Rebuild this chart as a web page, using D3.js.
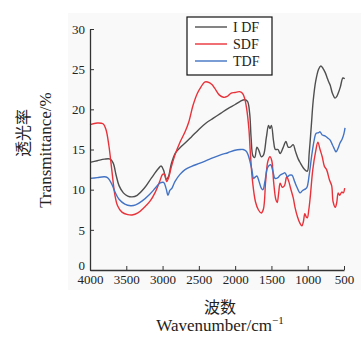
<!DOCTYPE html>
<html>
<head>
<meta charset="utf-8">
<script src="https://cdn.jsdelivr.net/npm/d3@7"></script>
<style>
  body { margin: 0; background: #fff; }
  svg { display: block; }
</style>
</head>
<body>
<div id="chart"></div>
<script>
const seriesNames = ['I DF', 'SDF', 'TDF'];
const seriesColors = ['#4f4f4f', '#e8323a', '#4373c4'];
const xTicks = [4000, 3500, 3000, 2500, 2000, 1500, 1000, 500];
const yTicks = [0, 5, 10, 15, 20, 25, 30];

// [wavenumber, transmittance]
const idf = [[4000,13.4],[3900,13.6],[3800,13.8],[3720,13.8],[3680,13.3],[3640,11.8],[3600,10.5],[3540,9.6],[3480,9.2],[3420,9.1],[3350,9.3],[3250,10.2],[3150,11.5],[3060,12.6],[3020,12.95],[2985,12.4],[2950,11.3],[2920,11.6],[2880,13.2],[2820,14.6],[2750,15.3],[2690,15.8],[2600,16.6],[2500,17.5],[2400,18.3],[2300,18.9],[2200,19.5],[2100,20.1],[2000,20.6],[1930,21.0],[1870,21.2],[1830,21.0],[1800,19.5],[1780,16.5],[1755,14.2],[1730,14.0],[1700,15.3],[1670,14.8],[1640,14.1],[1610,14.3],[1570,16.5],[1540,18.0],[1520,17.6],[1500,18.0],[1470,16.0],[1445,15.0],[1410,15.0],[1380,14.5],[1340,15.2],[1300,16.0],[1270,15.3],[1240,15.3],[1200,15.6],[1170,14.8],[1130,13.8],[1100,13.3],[1060,12.7],[1030,12.4],[1005,12.3],[980,14.5],[950,18.0],[925,21.0],[890,23.5],[850,25.0],[820,25.4],[790,25.1],[760,24.6],[735,24.0],[710,23.4],[690,23.0],[660,22.0],[625,21.4],[600,21.6],[580,22.0],[550,22.8],[515,23.9],[490,23.8]];

const sdf = [[4000,18.1],[3900,18.3],[3820,18.2],[3780,17.5],[3740,15.5],[3700,12.5],[3660,9.5],[3620,8.0],[3560,7.2],[3480,6.9],[3420,6.85],[3340,7.1],[3250,7.8],[3170,8.6],[3100,9.7],[3040,11.0],[3000,11.9],[2970,11.9],[2945,11.0],[2920,11.4],[2880,12.8],[2830,14.3],[2760,15.9],[2690,17.2],[2640,18.4],[2580,20.5],[2520,22.0],[2470,22.8],[2420,23.4],[2380,23.4],[2320,23.1],[2280,22.6],[2220,21.8],[2160,21.5],[2110,21.6],[2060,22.0],[2000,22.1],[1940,22.2],[1900,22.0],[1870,21.4],[1840,20.0],[1810,17.5],[1790,14.5],[1760,11.0],[1720,8.5],[1680,7.5],[1640,7.1],[1610,7.6],[1580,11.0],[1550,13.5],[1520,14.1],[1495,13.6],[1470,11.0],[1440,8.8],[1420,8.4],[1400,9.6],[1380,10.8],[1350,10.3],[1320,10.5],[1290,11.6],[1260,11.0],[1240,10.3],[1200,9.0],[1175,7.8],[1140,6.6],[1106,5.8],[1080,5.5],[1060,6.0],[1040,7.0],[1020,6.6],[1005,6.5],[985,7.5],[965,9.1],[930,12.5],[890,14.8],[860,15.9],[830,15.0],[800,14.1],[770,12.9],[740,12.5],[700,11.2],[670,10.5],[650,8.5],[620,7.8],[600,8.4],[580,9.6],[560,9.3],[530,9.7],[510,9.6],[490,10.2]];

const tdf = [[4000,11.4],[3900,11.5],[3800,11.6],[3760,11.5],[3730,11.2],[3690,10.5],[3650,9.6],[3600,8.8],[3520,8.2],[3440,8.0],[3370,8.1],[3280,8.6],[3180,9.4],[3100,10.2],[3040,10.8],[2985,10.9],[2950,10.1],[2925,9.3],[2900,9.9],[2870,10.2],[2830,11.0],[2760,11.9],[2690,12.5],[2600,12.9],[2484,13.3],[2350,13.8],[2209,14.3],[2100,14.6],[2002,14.9],[1930,15.0],[1890,15.0],[1850,14.8],[1820,14.3],[1795,13.5],[1770,12.5],[1745,11.4],[1720,11.6],[1700,11.7],[1670,11.0],[1640,10.2],[1616,10.0],[1590,11.0],[1550,12.8],[1510,13.1],[1480,12.3],[1450,11.4],[1410,11.5],[1382,11.8],[1340,12.0],[1313,12.1],[1280,11.6],[1250,11.8],[1217,11.8],[1180,11.0],[1148,10.3],[1106,9.6],[1070,9.9],[1030,10.1],[1010,10.3],[980,11.8],[941,14.5],[910,16.2],[886,17.0],[850,17.1],[830,17.2],[800,16.8],[762,16.7],[720,16.4],[693,16.2],[660,15.6],[630,15.0],[610,14.7],[585,15.1],[555,15.8],[525,16.3],[500,17.0],[486,17.7]];

const seriesData = [idf, sdf, tdf];

const w = 361, h = 338;
const serif = '"Liberation Serif", "DejaVu Serif", serif';
const cjk = '"Noto Sans CJK SC", sans-serif';

const svg = d3.select('#chart').append('svg')
  .attr('width', w)
  .attr('height', h);

// faint panel behind the plot
svg.append('rect')
  .attr('x', 68).attr('y', 13)
  .attr('width', w - 68).attr('height', 277)
  .attr('fill', '#f9f9f9');

const x = d3.scaleLinear().domain([4000, 500]).range([90, 344]);
const y = d3.scaleLinear().domain([0, 30]).range([270, 29]);

const line = d3.line()
  .x(d => x(d[0]))
  .y(d => y(d[1]))
  .curve(d3.curveCatmullRom.alpha(0.5));

svg.selectAll('path.series')
  .data(seriesData)
  .join('path')
  .attr('class', 'series')
  .attr('fill', 'none')
  .attr('stroke', (d, i) => seriesColors[i])
  .attr('stroke-width', 1.4)
  .attr('d', line);

// axes, ticks point inward
const xAxis = svg.append('g')
  .attr('transform', `translate(0,${y(0)})`)
  .call(d3.axisBottom(x).tickValues(xTicks).tickFormat(d3.format('d'))
    .tickSizeInner(-4).tickSizeOuter(0).tickPadding(5));

const yAxis = svg.append('g')
  .attr('transform', `translate(${x(4000)},0)`)
  .call(d3.axisLeft(y).tickValues(yTicks).tickFormat(d3.format('d'))
    .tickSizeInner(-4).tickSizeOuter(0).tickPadding(5));

[xAxis, yAxis].forEach(g => {
  g.select('.domain').attr('stroke', '#333').attr('stroke-width', 1.3);
  g.selectAll('.tick line').attr('stroke', '#333').attr('stroke-width', 1);
  g.selectAll('.tick text')
    .style('font-family', serif)
    .style('font-size', '13px')
    .attr('fill', '#222');
});

// the zero label sits a little higher so it clears 4000
yAxis.selectAll('.tick text').filter(d => d === 0).attr('dy', '-0.05em');

// legend
const legend = svg.append('g');
legend.append('rect')
  .attr('x', 187).attr('y', 17)
  .attr('width', 85).attr('height', 58)
  .attr('fill', '#fff')
  .attr('stroke', '#111')
  .attr('stroke-width', 1.2);

const item = legend.selectAll('g.item')
  .data(seriesNames)
  .join('g')
  .attr('class', 'item')
  .attr('transform', (d, i) => `translate(0,${27 + i * 17})`);

item.append('line')
  .attr('x1', 195).attr('x2', 227)
  .attr('stroke', (d, i) => seriesColors[i])
  .attr('stroke-width', 1.4);

item.append('text')
  .attr('x', 233)
  .attr('y', 5)
  .style('font-family', serif)
  .style('font-size', '14px')
  .attr('fill', '#222')
  .text(d => d);

// axis titles
svg.append('text')
  .attr('x', 220).attr('y', 313)
  .attr('text-anchor', 'middle')
  .style('font-family', cjk)
  .style('font-size', '16px')
  .attr('fill', '#222')
  .text('波数');

const xt = svg.append('text')
  .attr('x', 220).attr('y', 331)
  .attr('text-anchor', 'middle')
  .style('font-family', serif)
  .style('font-size', '17px')
  .attr('fill', '#222');
xt.append('tspan').text('Wavenumber/cm');
xt.append('tspan').attr('dy', -7).style('font-size', '11px').text('−1');

svg.append('text')
  .attr('transform', 'translate(29,133) rotate(-90)')
  .attr('text-anchor', 'middle')
  .style('font-family', cjk)
  .style('font-size', '16px')
  .attr('fill', '#222')
  .text('透光率');

svg.append('text')
  .attr('transform', 'translate(51,150) rotate(-90)')
  .attr('text-anchor', 'middle')
  .style('font-family', serif)
  .style('font-size', '17px')
  .attr('fill', '#222')
  .text('Transmittance/%');
</script>
</body>
</html>
